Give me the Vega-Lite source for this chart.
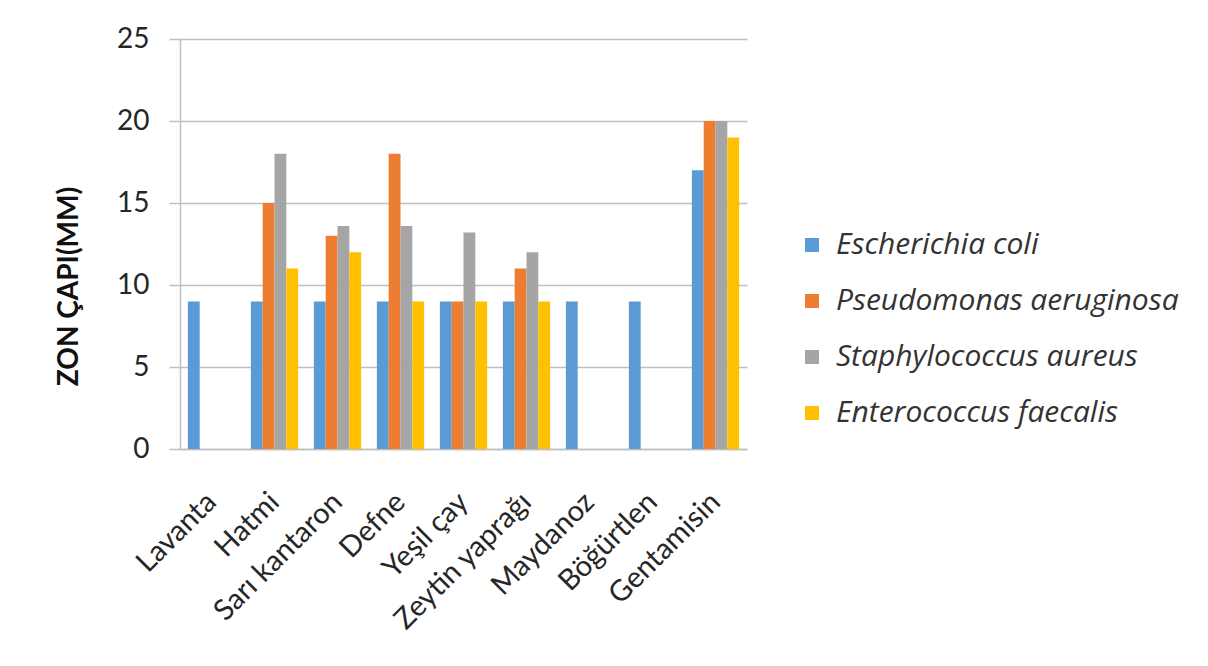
{
  "$schema": "https://vega.github.io/schema/vega-lite/v6.json",
  "width": 567,
  "height": 410,
  "autosize": {"type": "none"},
  "padding": {"left": 180, "top": 39, "right": 461, "bottom": 217},
  "background": "white",
  "config": {"view": {"stroke": null}, "font": "Lato"},
  "data": {
    "values": [
      {"plant": "Lavanta", "bacteria": "Escherichia coli", "zone": 9},
      {"plant": "Hatmi", "bacteria": "Escherichia coli", "zone": 9},
      {"plant": "Hatmi", "bacteria": "Pseudomonas aeruginosa", "zone": 15},
      {"plant": "Hatmi", "bacteria": "Staphylococcus aureus", "zone": 18},
      {"plant": "Hatmi", "bacteria": "Enterococcus faecalis", "zone": 11},
      {"plant": "Sarı kantaron", "bacteria": "Escherichia coli", "zone": 9},
      {"plant": "Sarı kantaron", "bacteria": "Pseudomonas aeruginosa", "zone": 13},
      {"plant": "Sarı kantaron", "bacteria": "Staphylococcus aureus", "zone": 13.6},
      {"plant": "Sarı kantaron", "bacteria": "Enterococcus faecalis", "zone": 12},
      {"plant": "Defne", "bacteria": "Escherichia coli", "zone": 9},
      {"plant": "Defne", "bacteria": "Pseudomonas aeruginosa", "zone": 18},
      {"plant": "Defne", "bacteria": "Staphylococcus aureus", "zone": 13.6},
      {"plant": "Defne", "bacteria": "Enterococcus faecalis", "zone": 9},
      {"plant": "Yeşil çay", "bacteria": "Escherichia coli", "zone": 9},
      {"plant": "Yeşil çay", "bacteria": "Pseudomonas aeruginosa", "zone": 9},
      {"plant": "Yeşil çay", "bacteria": "Staphylococcus aureus", "zone": 13.2},
      {"plant": "Yeşil çay", "bacteria": "Enterococcus faecalis", "zone": 9},
      {"plant": "Zeytin yaprağı", "bacteria": "Escherichia coli", "zone": 9},
      {"plant": "Zeytin yaprağı", "bacteria": "Pseudomonas aeruginosa", "zone": 11},
      {"plant": "Zeytin yaprağı", "bacteria": "Staphylococcus aureus", "zone": 12},
      {"plant": "Zeytin yaprağı", "bacteria": "Enterococcus faecalis", "zone": 9},
      {"plant": "Maydanoz", "bacteria": "Escherichia coli", "zone": 9},
      {"plant": "Böğürtlen", "bacteria": "Escherichia coli", "zone": 9},
      {"plant": "Gentamisin", "bacteria": "Escherichia coli", "zone": 17},
      {"plant": "Gentamisin", "bacteria": "Pseudomonas aeruginosa", "zone": 20},
      {"plant": "Gentamisin", "bacteria": "Staphylococcus aureus", "zone": 20},
      {"plant": "Gentamisin", "bacteria": "Enterococcus faecalis", "zone": 19}
    ]
  },
  "mark": {"type": "bar"},
  "encoding": {
    "x": {
      "field": "plant",
      "type": "nominal",
      "sort": ["Lavanta", "Hatmi", "Sarı kantaron", "Defne", "Yeşil çay", "Zeytin yaprağı", "Maydanoz", "Böğürtlen", "Gentamisin"],
      "scale": {"paddingInner": 0.25, "paddingOuter": 0.125},
      "axis": {
        "title": null,
        "labelAngle": -45,
        "labelAlign": "right",
        "labelBaseline": "middle",
        "labelFontSize": 29,
        "labelColor": "#262626",
        "labelPadding": 48,
        "labelLimit": 400,
        "ticks": false,
        "domainColor": "#bfbfbf",
        "domainWidth": 1.5
      }
    },
    "xOffset": {
      "field": "bacteria",
      "type": "nominal",
      "sort": ["Escherichia coli", "Pseudomonas aeruginosa", "Staphylococcus aureus", "Enterococcus faecalis"]
    },
    "y": {
      "field": "zone",
      "type": "quantitative",
      "scale": {"domain": [0, 25]},
      "axis": {
        "title": "ZON ÇAPI(MM)",
        "titleFontSize": 28,
        "titleFontWeight": "bold",
        "titleColor": "#111111",
        "titleX": -111,
        "titleY": 247,
        "titleAngle": -90,
        "titleAlign": "center",
        "titleBaseline": "middle",
        "values": [0, 5, 10, 15, 20, 25],
        "labelFontSize": 28,
        "labelColor": "#262626",
        "labelPadding": 20,
        "tickSize": 11,
        "tickColor": "#bfbfbf",
        "tickWidth": 1.5,
        "gridColor": "#bfbfbf",
        "gridWidth": 1.5,
        "domainColor": "#bfbfbf",
        "domainWidth": 1.5
      }
    },
    "color": {
      "field": "bacteria",
      "type": "nominal",
      "sort": ["Escherichia coli", "Pseudomonas aeruginosa", "Staphylococcus aureus", "Enterococcus faecalis"],
      "scale": {
        "domain": ["Escherichia coli", "Pseudomonas aeruginosa", "Staphylococcus aureus", "Enterococcus faecalis"],
        "range": ["#5B9BD5", "#ED7D31", "#A5A5A5", "#FFC000"]
      },
      "legend": {
        "title": null,
        "orient": "none",
        "legendX": 617,
        "legendY": 191,
        "padding": 0,
        "symbolType": "square",
        "symbolSize": 196,
        "symbolStrokeWidth": 0,
        "labelFont": "Open Sans",
        "labelFontSize": 30,
        "labelFontStyle": "italic",
        "labelColor": "#333333",
        "labelOffset": 9,
        "rowPadding": 26,
        "labelLimit": 500
      }
    }
  }
}
